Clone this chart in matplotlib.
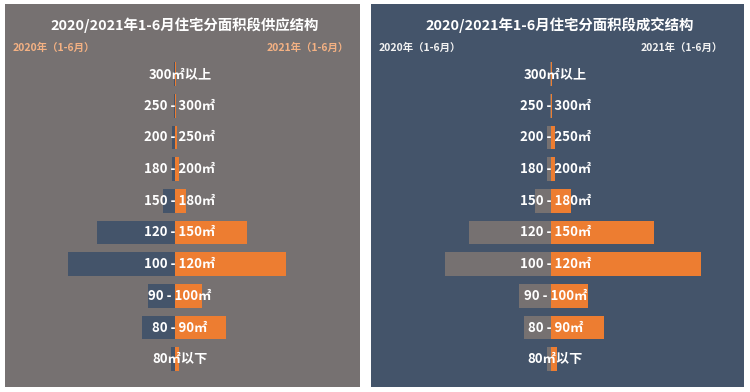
import numpy as np
import matplotlib
matplotlib.use('Agg')
import matplotlib.pyplot as plt

plt.rcParams['font.family'] = ['Noto Sans CJK SC', 'DejaVu Sans']

# area bands, top to bottom
bands = ['300㎡以上', '250 - 300㎡', '200 - 250㎡', '180 - 200㎡', '150 - 180㎡',
         '120 - 150㎡', '100 - 120㎡', '90 - 100㎡', '80 - 90㎡', '80㎡以下']

# supply structure (share, %)
supply_2020 = [0.2, 0.4, 1.1, 1.1, 4.4, 28.4, 38.9, 9.8, 12.0, 1.5]
supply_2021 = [0.4, 0.4, 0.8, 1.5, 4.0, 26.2, 40.4, 9.8, 18.5, 1.5]

# transaction structure
deal_2020 = [0.1, 0.2, 1.1, 1.1, 5.5, 29.8, 38.5, 11.3, 9.8, 1.1]
deal_2021 = [0.7, 0.7, 1.8, 1.8, 7.6, 37.5, 54.9, 13.5, 19.3, 2.2]

titles = ['2020/2021年1-6月住宅分面积段供应结构', '2020/2021年1-6月住宅分面积段成交结构']
legend_left = '2020年（1-6月）'
legend_right = '2021年（1-6月）'

W, H = 750, 392
fig = plt.figure(figsize=(7.5, 3.92), dpi=100)
fig.patch.set_facecolor('white')

orange = '#ED7D31'
slate = '#44546A'
grey = '#767171'

# panel specs: (left px, right px, center px, bg, bar color 2020, header color)
panels = [
    (5, 360, 175, grey, slate, '#F4B183', supply_2020, supply_2021, titles[0]),
    (371, 744, 550.5, slate, grey, '#F2F2F2', deal_2020, deal_2021, titles[1]),
]
top_px, bot_px = 4, 387
row0, step = 74, 31.7
px_per_unit = 2.75

y = np.arange(len(bands))
for (l, r, c, bg, c20, hc, v20, v21, title) in panels:
    ax = fig.add_axes([l / W, 1 - bot_px / H, (r - l) / W, (bot_px - top_px) / H])
    ax.set_facecolor(bg)
    ax.barh(y, -np.array(v20), height=0.75, color=c20)
    ax.barh(y, v21, height=0.75, color=orange)
    ax.set_xlim((l - c) / px_per_unit, (r - c) / px_per_unit)
    ax.set_ylim((bot_px - row0) / step, (top_px - row0) / step)
    for i, b in enumerate(bands):
        ax.text(5 / px_per_unit, i, b, ha='center', va='center', color='white',
                fontsize=9.5, fontweight='bold')
    ax.set_xticks([])
    ax.set_yticks([])
    for s in ax.spines.values():
        s.set_visible(False)

    mid = (l + r) / 2 + 2
    fig.text(mid / W, 1 - 25 / H, title, ha='center', va='center', color='white',
             fontsize=10.4, fontweight='bold')
    fig.text((l + 8) / W, 1 - 48 / H, legend_left, ha='left', va='center', color=hc,
             fontsize=7.5, fontweight='bold')
    fig.text((r - 11 - (10 if l > 300 else 0)) / W, 1 - 48 / H, legend_right, ha='right',
             va='center', color=hc, fontsize=7.5, fontweight='bold')

fig.savefig('out.png', dpi=100)
